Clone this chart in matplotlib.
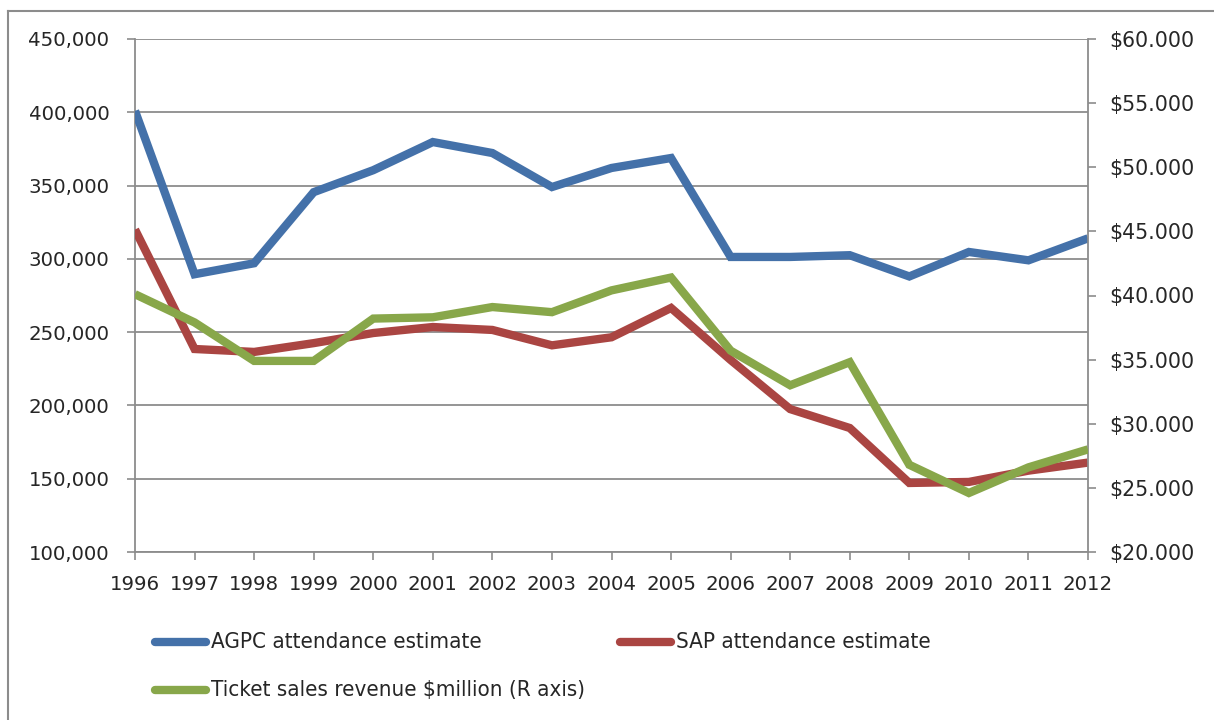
import matplotlib
matplotlib.use("Agg")
import matplotlib.pyplot as plt
from matplotlib.lines import Line2D
from matplotlib.ticker import FuncFormatter, MultipleLocator
from matplotlib import font_manager

years = [1996, 1997, 1998, 1999, 2000, 2001, 2002, 2003, 2004, 2005,
         2006, 2007, 2008, 2009, 2010, 2011, 2012]
agpc_attendance = [401000, 289500, 297000, 345500, 360500, 379700, 372200,
                   349000, 362000, 368800, 301300, 301300, 302500, 288000,
                   304700, 299000, 314000]
sap_attendance = [320000, 238500, 236500, 242500, 249400, 253500, 251500,
                  241000, 246500, 266500, 231000, 197500, 184600, 147100,
                  147800, 155500, 161000]
ticket_revenue = [40.1, 37.9, 34.9, 34.9, 38.2, 38.3, 39.1, 38.7, 40.4, 41.4,
                  35.7, 33.0, 34.8, 26.8, 24.6, 26.6, 28.0]

series_labels = ["AGPC attendance estimate", "SAP attendance estimate",
                 "Ticket sales revenue $million (R axis)"]
colors = ["#4471A9", "#AA4542", "#88A74A"]

W, H = 1214, 720
fig = plt.figure(figsize=(W / 100, H / 100), dpi=100)
fig.patch.set_facecolor("white")

ax = fig.add_axes([135 / W, 1 - 552 / H, (1088 - 135) / W, (552 - 39) / H])
ax2 = ax.twinx()

grid_c = "#8C8C8C"
text_c = "#262626"
tick_size = 14.2
lw = 6.0

x = list(range(len(years)))
ax.plot(x, agpc_attendance, color=colors[0], lw=lw, solid_joinstyle="miter",
        solid_capstyle="butt", zorder=3)
ax.plot(x, sap_attendance, color=colors[1], lw=lw, solid_joinstyle="miter",
        solid_capstyle="butt", zorder=3)
ax2.plot(x, ticket_revenue, color=colors[2], lw=lw, solid_joinstyle="miter",
         solid_capstyle="butt", zorder=4)

ax.set_xlim(0, len(years) - 1)
ax.set_ylim(100000, 450000)
ax2.set_ylim(20, 60)
ax.yaxis.set_major_locator(MultipleLocator(50000))
ax2.yaxis.set_major_locator(MultipleLocator(5))
ax.yaxis.set_major_formatter(FuncFormatter(lambda v, p: f"{int(v):,}"))
ax2.yaxis.set_major_formatter(FuncFormatter(lambda v, p: f"${v:.3f}"))
ax.set_xticks(x)
ax.set_xticklabels([str(y) for y in years])

ax.grid(axis="y", color=grid_c, lw=1.3)
ax.set_axisbelow(True)

for a in (ax, ax2):
    for s in a.spines.values():
        s.set_visible(False)
    a.set_facecolor("none")
ax.spines["left"].set_visible(True)
ax.spines["bottom"].set_visible(True)
ax2.spines["right"].set_visible(True)
for s in (ax.spines["left"], ax.spines["bottom"], ax2.spines["right"]):
    s.set_color(grid_c)
    s.set_linewidth(1.3)

ax.tick_params(axis="y", direction="out", length=5.5, width=1.2, color=grid_c,
               pad=13, labelcolor=text_c)
ax.tick_params(axis="x", direction="out", length=5.5, width=1.2, color=grid_c,
               pad=11, labelcolor=text_c)
ax2.tick_params(axis="y", direction="out", length=5.5, width=1.2, color=grid_c,
                pad=10, labelcolor=text_c)
for lab in ax.get_xticklabels() + ax.get_yticklabels():
    lab.set_fontfamily("DejaVu Sans")
    lab.set_fontsize(tick_size)
for lab in ax2.get_yticklabels():
    lab.set_fontfamily("DejaVu Sans")
    lab.set_fontsize(tick_size + 0.6)

# chart frame (left and top edges)
fig.add_artist(Line2D([8 / W, 8 / W], [0, 1 - 11 / H], color="#8C8C8C", lw=1.5))
fig.add_artist(Line2D([8 / W, 1], [1 - 11 / H, 1 - 11 / H], color="#8C8C8C", lw=1.5))

# legend, in a condensed face when one is available
legend_props = font_manager.FontProperties(family="DejaVu Sans", stretch="condensed",
                                           size=16)
try:
    fpath = font_manager.findfont(legend_props, fallback_to_default=False)
    if "Condensed" not in fpath:
        legend_props = font_manager.FontProperties(family="DejaVu Sans", size=14.5)
except Exception:
    legend_props = font_manager.FontProperties(family="DejaVu Sans", size=14.5)

entries = [(152, 642), (617, 642), (152, 690)]
for (lx, ly), label, c in zip(entries, series_labels, colors):
    fig.add_artist(Line2D([(lx + 3) / W, (lx + 54) / W], [1 - ly / H, 1 - ly / H],
                          color=c, lw=lw, solid_capstyle="round"))
    fig.text((lx + 59) / W, 1 - ly / H, label, ha="left", va="center",
             fontproperties=legend_props, color=text_c)

fig.savefig("out.png", dpi=100, facecolor="white")
